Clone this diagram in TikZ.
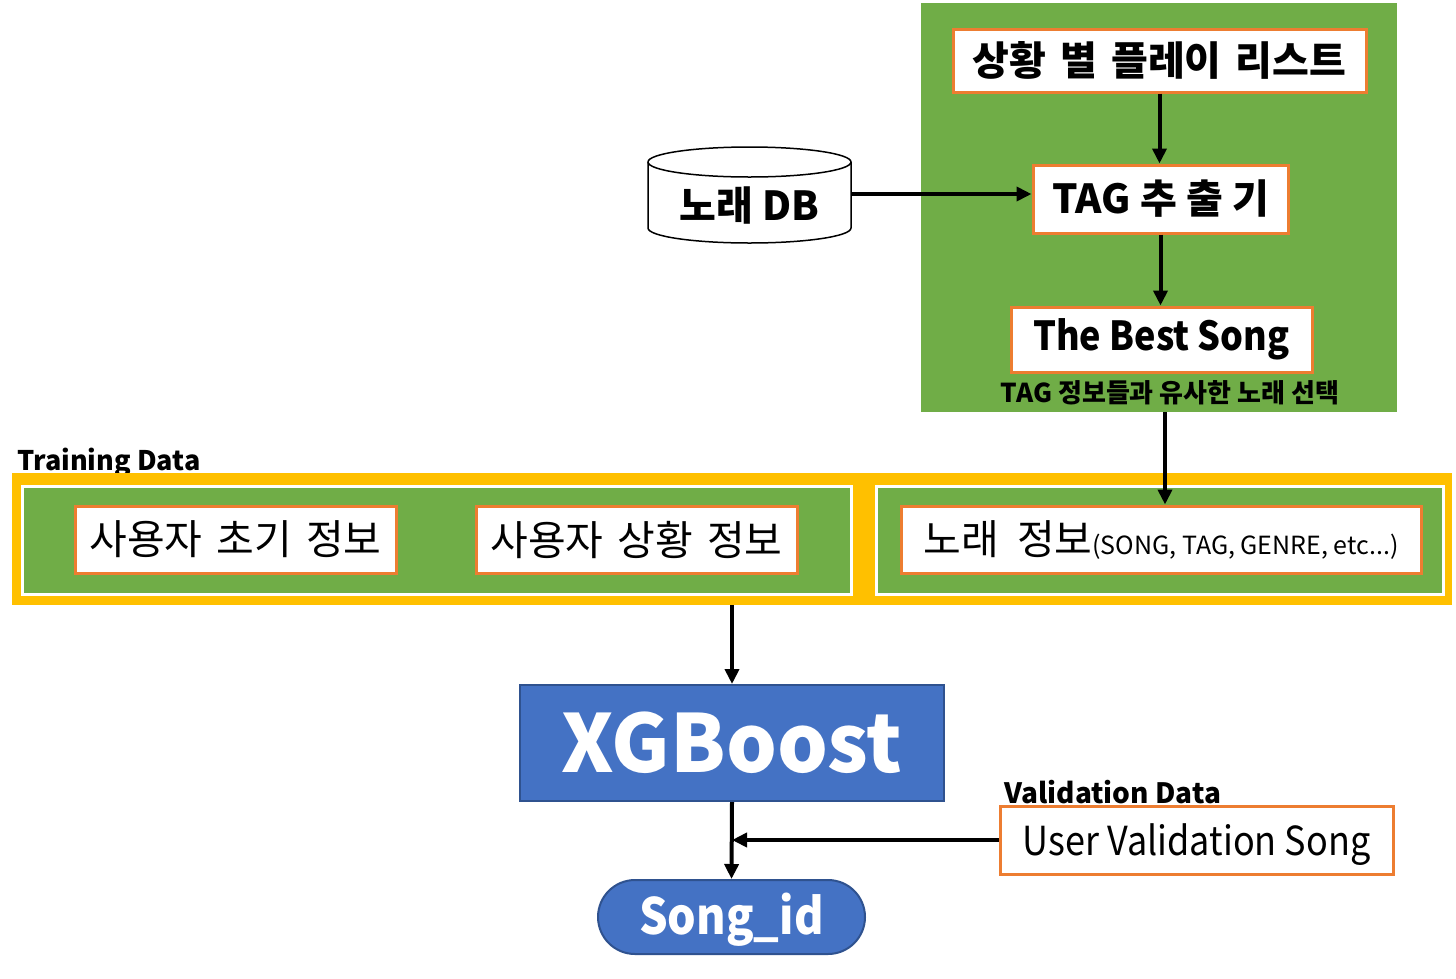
\documentclass[tikz,border=0pt]{standalone}
\usepackage{fontspec}
\setmainfont{Noto Sans CJK KR}
\newfontfamily\nar[FakeStretch=0.9]{Noto Sans CJK KR}
\usetikzlibrary{arrows.meta,calc}
\definecolor{gr}{HTML}{70AD47}
\definecolor{org}{HTML}{ED7D31}
\definecolor{yel}{HTML}{FFC000}
\definecolor{blu}{HTML}{4472C4}
\definecolor{dblu}{HTML}{2F528F}
\newcommand{\fsz}[1]{\fontsize{#1}{#1}\selectfont}
\newcommand{\gap}{\ \kern5pt}
\tikzset{
  obox/.style={draw=org, line width=3pt, fill=white, inner sep=0pt},
  arr/.style={line width=4pt, -{Triangle[length=15pt,width=14pt]}},
  panel/.style={fill=gr, draw=white, line width=3pt}
}
\begin{document}
\begin{tikzpicture}[x=1pt,y=-1pt]
\useasboundingbox (0,0) rectangle (1456,978);
% top green panel
\node[fill=gr, minimum width=476pt, minimum height=409pt, inner sep=0pt] (top) at (1159,207.5) {};
\node[obox, minimum width=413pt, minimum height=63pt] (list) at (1159.5,60.5) {\fsz{40}\bfseries 상황\gap 별\gap 플레이\gap 리스트};
\node[obox, minimum width=255pt, minimum height=68pt] (tag) at (1160.5,199) {\fsz{40}\bfseries TAG 추 출 기};
\node[obox, minimum width=301pt, minimum height=65pt] (best) at (1161.5,339.5) {\fsz{40}\bfseries\nar The Best Song};
\node (cap) at (1170,393) {\fsz{26}\bfseries TAG 정보들과 유사한 노래 선택};
% database cylinder
\draw[line width=1.5pt, fill=white] (648,162) -- (648,228) arc[start angle=180,end angle=360,x radius=101.5pt,y radius=15pt] -- (851,162) arc[start angle=0,end angle=180,x radius=101.5pt,y radius=15pt] -- cycle;
\draw[line width=1.5pt] (648,162) arc[start angle=180,end angle=360,x radius=101.5pt,y radius=15pt];
\node[minimum width=203pt, minimum height=96pt, inner sep=0pt] (db) at (749.5,195) {};
\node at (749.5,205) {\fsz{40}\bfseries 노래 DB};
% training data band
\node[anchor=west] (tdl) at (14,462) {\fsz{27}\bfseries Training Data};
\node[fill=yel, minimum width=1440pt, minimum height=132pt, inner sep=0pt] (train) at (732,539) {};
\node[panel, minimum width=829pt, minimum height=108pt, inner sep=0pt] (lp) at (436.5,540) {};
\node[panel, minimum width=567pt, minimum height=108pt, inner sep=0pt] (rp) at (1159.5,540) {};
\node[obox, minimum width=321pt, minimum height=67pt] (u1) at (235.5,539.5) {\fsz{41}사용자\gap 초기\gap 정보};
\node[obox, minimum width=321pt, minimum height=67pt] (u2) at (636.5,539.5) {\fsz{41}사용자\gap 상황\gap 정보};
\node[obox, minimum width=520pt, minimum height=67pt] (song) at (1161,539.5) {\fsz{41}노래\gap\kern4pt 정보{\fsz{25}(SONG, TAG, GENRE, etc...)}};
% XGBoost
\node[fill=blu, draw=dblu, line width=2pt, minimum width=424pt, minimum height=116pt, inner sep=0pt, text=white] (xg) at (732,743) {\fsz{80}\bfseries XGBoost};
\node[fill=blu, draw=dblu, line width=2pt, rounded corners=37pt, minimum width=267pt, minimum height=74pt, inner sep=0pt, text=white] (sid) at (731.5,917) {\raisebox{-3pt}[\height][\depth]{\fsz{50}\bfseries\nar Song\_id}};
% validation
\node[anchor=west] (vdl) at (1001,792) {\fsz{28}\bfseries Validation Data};
\node[obox, minimum width=393pt, minimum height=68pt] (val) at (1196.5,840) {\raisebox{-5pt}[\height][\depth]{\fsz{40}\nar User Validation Song}};
% connectors
\draw[arr] (list.south) -- (list.south |- tag.north);
\draw[arr] (tag.south) -- (tag.south |- best.north);
\draw[arr] (db.east |- 0,194) -- (tag.west |- 0,194);
\draw[arr] ([xshift=6pt]top.south) -- ([xshift=6pt]top.south |- song.north);
\draw[arr] (train.south -| xg.north) -- (xg.north);
\draw[arr] (xg.south) -- (sid.north);
\draw[arr] (val.west) -- (val.west -| xg.south);
\end{tikzpicture}
\end{document}
